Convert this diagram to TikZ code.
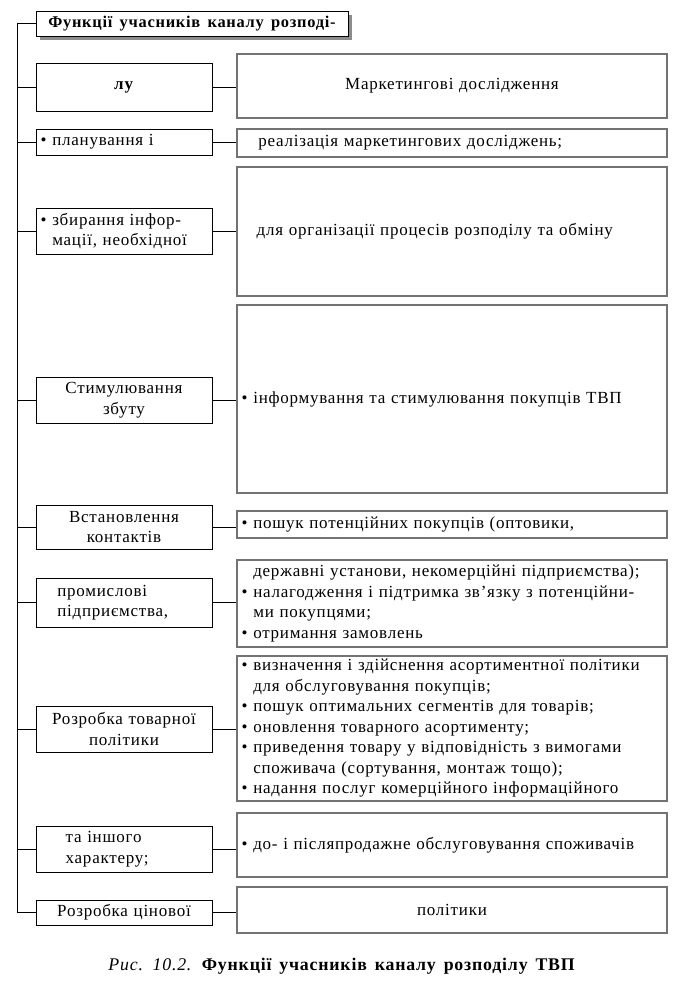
\documentclass[tikz,border=0pt]{standalone}
\usepackage{fontspec}
\setmainfont{Liberation Serif}[LetterSpace=4.5, WordSpace=1.5]
\usetikzlibrary{calc,positioning,shadows}

\newcommand{\bul}{\textbullet~}
\newcommand{\bulgap}{\phantom{\textbullet~}}

\begin{document}
\begin{tikzpicture}[
      leftBox/.style={
        draw=black, line width=0.8pt, rectangle, align=center,
        font=\fontsize{14.5}{17.5}\selectfont,
        text width=5.0cm, inner xsep=0.14cm, inner ysep=2pt
      },
      leftBoxL/.style={leftBox, align=left},
      rightBox/.style={
        draw=black!55, line width=1.2pt, rectangle, align=left,
        font=\fontsize{14.5}{17.5}\selectfont,
        text width=12.62cm, inner xsep=0.14cm, inner ysep=2pt
      },
      rightBoxC/.style={rightBox, align=center},
      titleBox/.style={
        draw=black, line width=0.8pt, fill=white, rectangle,
        font=\fontsize{14}{17}\selectfont\bfseries,
        drop shadow={shadow xshift=0.11cm, shadow yshift=-0.12cm, fill=black!45, opacity=1}
      },
      link/.style={-, line width=0.8pt, draw=black},
      captionLabel/.style={font=\fontsize{15.2}{18}\selectfont}
    ]

      \useasboundingbox (0,0) rectangle (20.55,-29.52);

      % ---------- Заголовок ----------
      \node[titleBox, minimum width=9.36cm, minimum height=0.75cm] (title) at (5.76,-0.705) {Функції учасників каналу розподі-};
      \coordinate (trunk) at (0.51,-0.705);

      % ---------- Ліві блоки ----------
      \node[leftBox, minimum height=1.44cm] (l1) at (3.72,-2.61)   {\textbf{лу}};
      \node[leftBoxL, minimum height=0.78cm] (l2) at (3.72,-4.26)  {\bul планування і};
      \node[leftBoxL, minimum height=1.38cm] (l3) at (3.72,-6.93)  {\bul збирання інфор-\\\bulgap мації, необхідної};
      \node[leftBox, minimum height=1.38cm] (l4) at (3.72,-12.0)   {Стимулювання\\збуту};
      \node[leftBox, minimum height=1.32cm] (l5) at (3.72,-15.81)  {Встановлення\\контактів};
      \node[leftBoxL, minimum height=1.47cm] (l6) at (3.72,-18.075) {\hspace{0.5cm}промислові\\\hspace{0.5cm}підприємства,};
      \node[leftBox, minimum height=1.38cm] (l7) at (3.72,-21.87)  {Розробка товарної\\політики};
      \node[leftBoxL, minimum height=1.38cm] (l8) at (3.72,-25.47) {\hspace{0.75cm}та іншого\\\hspace{0.75cm}характеру;};
      \node[leftBox, minimum height=0.75cm] (l9) at (3.72,-27.375) {Розробка цінової};

      % ---------- Праві блоки ----------
      \node[rightBoxC, minimum height=1.92cm] (r1) at (13.56,-2.58) {Маркетингові дослідження};
      \node[rightBox, minimum height=0.84cm] (r2) at (13.56,-4.29)  {\hspace{0.5cm}реалізація маркетингових досліджень;};
      \node[rightBox, minimum height=3.87cm] (r3) at (13.56,-6.945) {\hspace{0.45cm}для організації процесів розподілу та обміну};
      \node[rightBox, minimum height=5.64cm] (r4) at (13.56,-11.97) {\bul інформування та стимулювання покупців ТВП};
      \node[rightBox, minimum height=0.81cm] (r5) at (13.56,-15.735) {\bul пошук потенційних покупців (оптовики,};
      \node[rightBox, minimum height=2.61cm] (r6) at (13.56,-18.105) {\bulgap державні установи, некомерційні підприємства);\\
        \bul налагодження і підтримка зв’язку з потенційни-\\
        \bulgap ми покупцями;\\
        \bul отримання замовлень};
      \node[rightBox, minimum height=4.35cm] (r7) at (13.56,-21.855) {\bul визначення і здійснення асортиментної політики\\
        \bulgap для обслуговування покупців;\\
        \bul пошук оптимальних сегментів для товарів;\\
        \bul оновлення товарного асортименту;\\
        \bul приведення товару у відповідність з вимогами\\
        \bulgap споживача (сортування, монтаж тощо);\\
        \bul надання послуг комерційного інформаційного};
      \node[rightBox, minimum height=1.92cm] (r8) at (13.56,-25.35) {\bul до- і післяпродажне обслуговування споживачів};
      \node[rightBoxC, minimum height=1.38cm] (r9) at (13.56,-27.3) {політики};

      % ---------- З'єднання ----------
      \draw[link] (title.west) -- (trunk) -- (trunk |- l9.west);
      \foreach \i in {1,...,9} {
        \draw[link] (trunk |- l\i.west) -- (l\i.west);
        \draw[link] (l\i.east) -- (l\i.east -| r\i.west);
      }

      % ---------- Підпис ----------
      \node[captionLabel] (caption) at (10.26,-28.98) {\textit{Рис. 10.2.} \textbf{Функції учасників каналу розподілу ТВП}};

    \end{tikzpicture}
\end{document}
